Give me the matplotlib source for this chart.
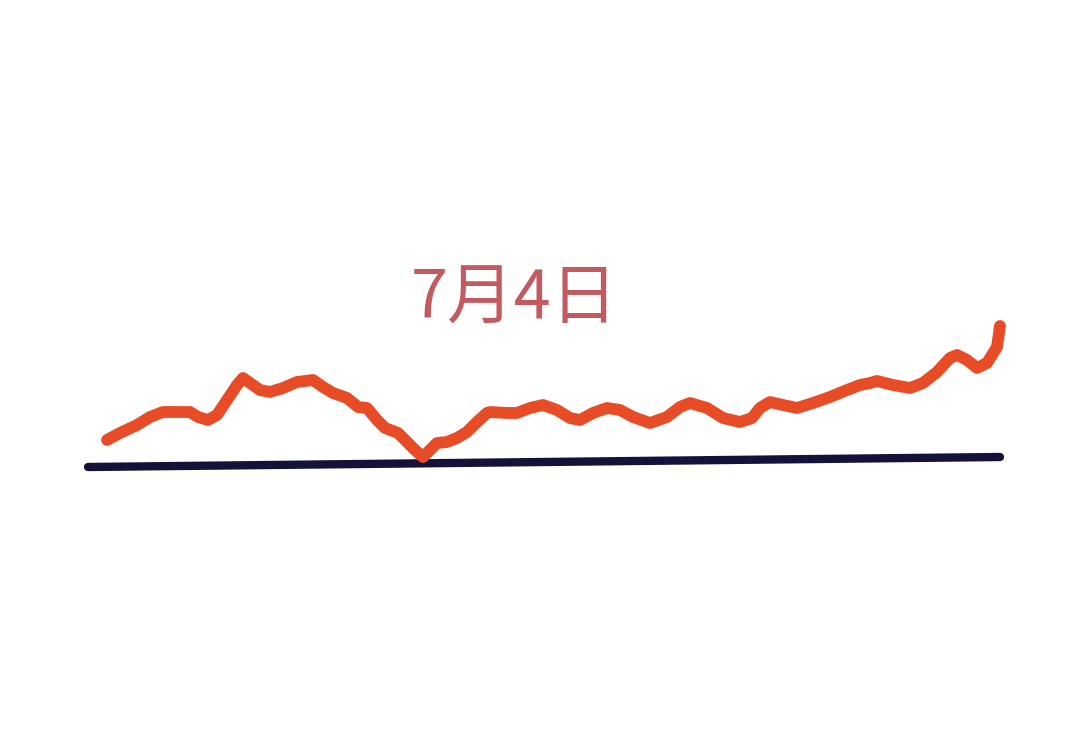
import matplotlib.pyplot as plt

# trend line (x position, height on a pixel-like scale)
trend_x = [107, 120, 137, 150, 163, 177, 190, 198, 208, 217, 227, 237, 243, 250,
           260, 270, 283, 297, 313, 323, 333, 347, 358, 367, 377, 385, 398, 407,
           415, 423, 430, 437, 447, 457, 467, 477, 487, 490, 507, 517, 530, 543,
           557, 570, 580, 593, 607, 620, 633, 650, 667, 680, 690, 707, 723, 740,
           752, 760, 770, 783, 797, 813, 830, 847, 860, 870, 877, 893, 910, 923,
           937, 950, 957, 967, 977, 987, 997, 1000]
trend_y = [440, 433, 425, 417, 412, 412, 412, 417, 420, 415, 400, 385, 378, 383,
           390, 392, 388, 382, 380, 387, 393, 398, 407, 408, 420, 428, 433, 442,
           450, 457, 450, 443, 442, 438, 432, 422, 413, 412, 413, 413, 408, 405,
           410, 418, 420, 413, 408, 410, 417, 423, 417, 407, 403, 408, 418, 422,
           418, 408, 402, 405, 408, 403, 397, 390, 385, 383, 381, 385, 388, 383,
           372, 358, 355, 360, 368, 363, 347, 326]

# baseline end points
base_x = [88, 1000]
base_y = [467, 457]

label = "7月4日"

plt.rcParams['font.family'] = ['Noto Sans CJK SC', 'DejaVu Sans']

fig = plt.figure(figsize=(10.8, 7.41), dpi=100)
ax = fig.add_axes([0, 0, 1, 1])
ax.set_xlim(0, 1080)
ax.set_ylim(741, 0)
ax.axis('off')

ax.plot(base_x, base_y, color='#15123a', lw=6, solid_capstyle='round')
ax.plot(trend_x, trend_y, color='#e84c26', lw=8.5,
        solid_capstyle='round', solid_joinstyle='round')

ax.text(514, 300, label, color='#c25a60', fontsize=48, fontweight='light',
        ha='center', va='center')

fig.savefig('out.png', dpi=100, facecolor='white')
